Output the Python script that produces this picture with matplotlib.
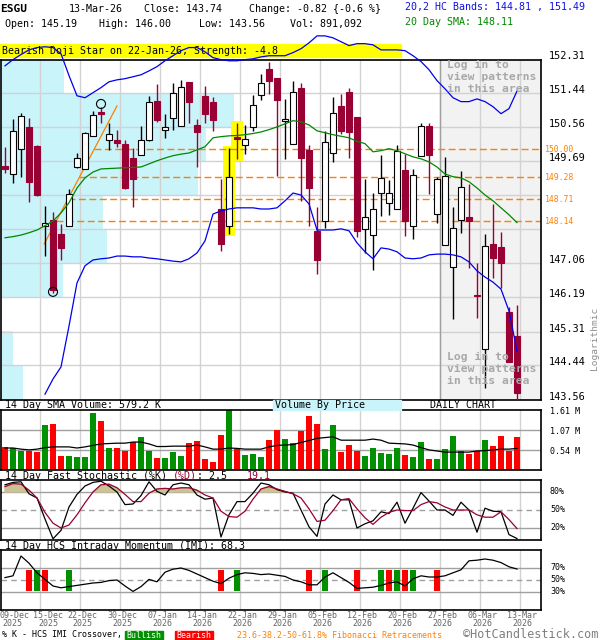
import numpy as np
import matplotlib
matplotlib.use("Agg")
import matplotlib.pyplot as plt
from matplotlib.patches import Rectangle
from matplotlib.transforms import blended_transform_factory, offset_copy

# ---- data (daily, 09-Dec-2025 .. 13-Mar-2026) ----
dates = ["2025-12-09", "2025-12-10", "2025-12-11", "2025-12-12", "2025-12-15", "2025-12-16",
         "2025-12-17", "2025-12-18", "2025-12-19", "2025-12-22", "2025-12-23", "2025-12-24",
         "2025-12-26", "2025-12-29", "2025-12-30", "2025-12-31", "2026-01-02", "2026-01-05",
         "2026-01-06", "2026-01-07", "2026-01-08", "2026-01-09", "2026-01-12", "2026-01-13",
         "2026-01-14", "2026-01-15", "2026-01-16", "2026-01-20", "2026-01-21", "2026-01-22",
         "2026-01-23", "2026-01-26", "2026-01-27", "2026-01-28", "2026-01-29", "2026-01-30",
         "2026-02-02", "2026-02-03", "2026-02-04", "2026-02-05", "2026-02-06", "2026-02-09",
         "2026-02-10", "2026-02-11", "2026-02-12", "2026-02-13", "2026-02-17", "2026-02-18",
         "2026-02-19", "2026-02-20", "2026-02-23", "2026-02-24", "2026-02-25", "2026-02-26",
         "2026-02-27", "2026-03-02", "2026-03-03", "2026-03-04", "2026-03-05", "2026-03-06",
         "2026-03-09", "2026-03-10", "2026-03-11", "2026-03-12", "2026-03-13"]

opens = [149.57, 149.36, 150.00, 150.57, 150.08, 148.03, 148.18, 147.83, 148.03, 149.54,
         149.48, 150.34, 150.96, 150.23, 150.24, 150.13, 149.77, 149.84, 150.23, 151.24,
         150.49, 150.81, 150.60, 151.73, 150.62, 151.37, 151.22, 148.45, 148.01, 150.32,
         150.10, 150.58, 151.39, 152.06, 151.82, 150.71, 150.14, 151.58, 149.98, 147.90,
         148.15, 149.90, 151.11, 151.47, 150.83, 147.94, 147.79, 148.87, 148.62, 148.45,
         149.46, 148.02, 149.81, 150.60, 148.33, 147.53, 146.98, 148.17, 148.26, 146.25,
         144.85, 147.57, 147.48, 145.81, 145.19]
highs = [150.06, 150.77, 150.92, 150.80, 150.10, 148.54, 148.37, 148.07, 148.97, 149.91,
         150.45, 150.98, 151.07, 150.68, 150.49, 150.23, 150.04, 150.60, 151.37, 151.67,
         150.90, 151.69, 151.77, 151.73, 150.77, 151.63, 151.33, 149.23, 150.04, 150.66,
         150.62, 151.39, 151.94, 152.25, 151.82, 151.29, 151.74, 151.69, 150.10, 148.50,
         150.47, 151.34, 151.41, 151.58, 150.83, 149.23, 148.88, 149.85, 149.20, 150.10,
         149.87, 149.50, 150.68, 150.66, 149.29, 149.80, 148.51, 149.44, 149.11, 147.08,
         147.83, 148.60, 147.88, 145.94, 146.00]
lows = [149.39, 149.14, 149.27, 148.64, 148.80, 147.25, 146.31, 147.15, 148.03, 149.52,
        149.48, 150.34, 150.68, 149.97, 150.06, 148.97, 148.52, 149.84, 150.21, 150.70,
        150.28, 150.49, 150.60, 150.68, 149.54, 150.68, 150.47, 147.38, 147.81, 149.74,
        149.87, 150.47, 151.27, 151.41, 149.31, 149.74, 150.14, 148.67, 148.01, 146.80,
        147.96, 149.68, 150.39, 149.78, 147.74, 147.32, 146.89, 148.28, 148.30, 148.45,
        147.77, 147.70, 149.81, 148.84, 148.11, 147.53, 145.64, 147.85, 146.95, 145.67,
        143.86, 146.69, 146.44, 144.53, 143.56]
closes = [149.49, 150.47, 150.86, 149.16, 148.82, 148.10, 146.37, 147.45, 148.84, 149.78,
          150.41, 150.88, 150.91, 150.39, 150.15, 148.99, 149.23, 150.23, 151.22, 150.75,
          150.57, 151.44, 151.60, 151.22, 150.45, 150.90, 150.75, 147.57, 149.27, 150.27,
          150.26, 151.13, 151.70, 151.76, 151.27, 150.77, 151.47, 149.78, 148.99, 147.15,
          150.19, 150.93, 150.47, 150.43, 147.90, 148.26, 148.45, 149.25, 148.88, 149.96,
          148.14, 149.33, 150.59, 149.86, 149.24, 149.31, 147.97, 149.03, 148.14, 146.22,
          147.51, 147.21, 147.08, 144.53, 143.74]

sma20 = [147.72, 147.75, 147.79, 147.85, 147.92, 148.03, 148.15, 148.36, 148.62, 149.00,
         149.26, 149.41, 149.49, 149.50, 149.51, 149.52, 149.53, 149.54, 149.62, 149.70,
         149.77, 149.83, 149.87, 149.90, 149.98, 150.06, 150.29, 150.32, 150.34, 150.35,
         150.37, 150.40, 150.44, 150.50, 150.57, 150.65, 150.73, 150.70, 150.62, 150.47,
         150.42, 150.37, 150.33, 150.29, 150.20, 150.14, 149.93, 149.96, 150.01, 149.96,
         149.88, 149.80, 149.75, 149.67, 149.54, 149.36, 149.29, 149.26, 149.16, 149.00,
         148.82, 148.67, 148.49, 148.31, 148.11]
band_upper = [152.14, 152.30, 152.43, 152.55, 152.61, 152.63, 152.61, 152.45, 151.89, 151.37,
              151.32, 151.45, 151.58, 151.73, 151.78, 151.81, 151.86, 151.91, 152.01, 152.12,
              152.27, 152.40, 152.53, 152.61, 152.61, 152.50, 152.35, 152.30, 152.27, 152.27,
              152.30, 152.32, 152.37, 152.40, 152.40, 152.40, 152.48, 152.58, 152.73, 152.91,
              152.91, 152.86, 152.76, 152.66, 152.71, 152.71, 152.68, 152.55, 152.55, 152.55,
              152.53, 152.40, 152.25, 152.04, 151.76, 151.55, 151.32, 151.22, 151.22, 151.29,
              151.22, 151.09, 150.91, 151.04, 151.49]
band_lower = [np.nan, np.nan, np.nan, np.nan, np.nan, 143.70, 144.09, 144.40, 145.45, 146.56,
              147.00, 147.15, 147.18, 147.20, 147.25, 147.25, 147.23, 147.23, 147.20, 147.18,
              147.15, 147.12, 147.10, 147.18, 147.33, 147.64, 148.33, 148.41, 148.46, 148.49,
              148.49, 148.49, 148.46, 148.46, 148.49, 148.67, 148.87, 148.82, 148.59, 147.92,
              147.92, 147.92, 147.95, 147.90, 147.59, 147.36, 147.18, 147.46, 147.43, 147.36,
              147.20, 147.18, 147.20, 147.28, 147.30, 147.30, 147.28, 147.23, 147.10, 146.87,
              146.71, 146.58, 146.40, 145.84, 144.81]

volume_m = [0.625, 0.58, 0.52, 0.52, 0.49, 1.21, 1.23, 0.376, 0.376, 0.357,
            0.357, 1.54, 1.32, 0.60, 0.60, 0.52, 0.74, 0.885, 0.52, 0.33,
            0.33, 0.49, 0.38, 0.73, 0.79, 0.295, 0.22, 0.94, 1.61, 0.56,
            0.40, 0.43, 0.357, 0.805, 1.07, 0.83, 0.72, 1.05, 1.45, 1.23,
            0.56, 1.21, 0.48, 0.67, 0.52, 0.376, 0.59, 0.456, 0.43, 0.59,
            0.40, 0.35, 0.75, 0.295, 0.295, 0.56, 0.91, 0.51, 0.43, 0.51,
            0.805, 0.64, 0.91, 0.52, 0.891]
volume_sma_m = [0.59, 0.59, 0.56, 0.54, 0.56, 0.60, 0.62, 0.62, 0.62, 0.59,
                0.62, 0.66, 0.70, 0.71, 0.72, 0.72, 0.75, 0.75, 0.70, 0.63,
                0.63, 0.64, 0.64, 0.64, 0.67, 0.62, 0.56, 0.56, 0.59, 0.58,
                0.56, 0.56, 0.56, 0.62, 0.66, 0.67, 0.68, 0.74, 0.79, 0.85,
                0.87, 0.89, 0.80, 0.80, 0.80, 0.80, 0.83, 0.80, 0.72, 0.71,
                0.70, 0.67, 0.60, 0.54, 0.51, 0.48, 0.48, 0.48, 0.48, 0.51,
                0.52, 0.54, 0.56, 0.56, 0.579]

stoch_k = [92, 96, 97, 77, 70, 35, 2, 16, 55, 76, 90, 96, 98, 90, 80, 59, 60, 74, 97, 81,
           75, 92, 95, 92, 75, 68, 70, 5, 42, 64, 64, 78, 95, 92, 84, 80, 78, 50, 22, 6,
           60, 75, 67, 67, 20, 27, 32, 47, 44, 63, 28, 53, 79, 65, 50, 50, 41, 63, 50, 13,
           53, 48, 47, 9, 2.5]
stoch_d = [89, 94, 93, 83, 70, 46, 28, 20, 25, 42, 62, 80, 92, 93, 87, 76, 64, 64, 78, 85,
           86, 85, 87, 87, 83, 75, 70, 48, 39, 38, 48, 68, 85, 89, 85, 81, 77, 70, 52, 31,
           33, 49, 67, 69, 52, 37, 26, 38, 46, 50, 49, 49, 59, 64, 62, 55, 50, 50, 50, 42,
           38, 38, 47, 34, 19.1]
imi = [54, 57, 90, 78, 62, 51, 40, 37, 39, 41, 43, 45, 46, 49, 50, 40, 31, 39, 51, 47,
       63, 68, 70, 66, 60, 54, 48, 44, 53, 59, 62, 61, 59, 60, 58, 56, 50, 47, 42, 42,
       55, 62, 54, 46, 36, 37, 38, 41, 45, 47, 40, 52, 57, 55, 55, 57, 62, 67, 82, 83,
       85, 83, 79, 72, 68.3]
cross_idx = [3, 4, 5, 8, 27, 29, 38, 40, 44, 47, 48, 49, 50, 51, 54]
cross_kind = ["bear", "bull", "bear", "bull", "bear", "bull", "bear", "bull", "bear",
              "bull", "bear", "bull", "bear", "bull", "bear"]

price_grid = [143.56, 144.44, 145.31, 146.19, 147.06, 147.94, 148.81, 149.69, 150.56, 151.44, 152.31]
price_labels = [143.56, 144.44, 145.31, 146.19, 147.06, 149.69, 150.56, 151.44, 152.31]
fib_levels = [150.00, 149.28, 148.71, 148.14]
swing_idx = [6, 12]
swing_price = [146.33, 151.16]
trend_idx = [4.9, 14.0]
trend_price = [147.56, 151.11]
pattern_idx = [28, 29]
vbp_volume = [22, 12, 0, 62, 106, 102, 197, 205, 233, 63]   # rows bottom -> top

# ---- style ----
MONO = "DejaVu Sans Mono"
MAROON = "#990033"
ORANGE = "#ff8000"
CYAN = "#c8f4fa"
GRID = "#d2d2d2"
BAND = "#0000ee"
GREEN_VOL = "#009000"

n = len(closes)
x = np.arange(n)
o, h, l, c = map(np.array, (opens, highs, lows, closes))
up = c >= o
label_idx = list(range(4, n, 5))
grid_x = [i + 0.375 for i in label_idx]
XLIM = (-0.5, 67.0)

fig = plt.figure(figsize=(6, 6.4), dpi=100)


def box(top, bottom):
    return [1 / 600, 1 - bottom / 640, 540 / 600, (bottom - top) / 640]


def ftext(px, py, s, **kw):
    kw.setdefault("family", MONO)
    kw.setdefault("fontsize", 7.2)
    kw.setdefault("va", "center")
    return fig.text(px / 600, 1 - py / 640, s, **kw)


ax = fig.add_axes(box(60, 400))
vax = fig.add_axes(box(410, 470))
sax = fig.add_axes(box(480, 540))
iax = fig.add_axes(box(550, 610))

for a in (ax, vax, sax, iax):
    a.set_xlim(*XLIM)
    a.set_xticks([])
    a.set_yticks([])
    for s in a.spines.values():
        s.set_linewidth(1.2)
    for gx in grid_x:
        a.axvline(gx, color=GRID, lw=1, zorder=0.5)

# ---- price panel ----
ax.set_ylim(143.55, 152.29)
ax.axvspan(54.5, XLIM[1], color="#f2f2f2", zorder=0.1)
ax.axvline(grid_x[10], color="#a0a0a0", lw=1, zorder=0.6)
step = price_grid[1] - price_grid[0]
vbp_w = np.array(vbp_volume) / max(vbp_volume) * 29.1
ax.barh(np.array(price_grid[:-1]) + step / 2, vbp_w, height=step, left=XLIM[0],
        color=CYAN, zorder=0.2)
for p in price_grid:
    ax.axhline(p, color=GRID, lw=1, zorder=0.5)

for yy in (60, 352):
    ftext(447, yy, "Log in to\nview patterns\nin this area", color="#a8a8a8", fontsize=8.2,
          fontweight="bold", va="top", linespacing=1.25)

# fibonacci retracements
t0, t1 = trend_idx
p0, p1 = trend_price
for lev in fib_levels:
    xs = t0 + (lev - p0) / (p1 - p0) * (t1 - t0)
    ax.plot([xs, XLIM[1]], [lev, lev], color=ORANGE, lw=1, dashes=(5, 2.5), zorder=2)
ax.plot(trend_idx, trend_price, color=ORANGE, lw=0.9, zorder=2)
ax.scatter(swing_idx, swing_price, s=42, facecolors="none", edgecolors="black", lw=0.8, zorder=6)

# pattern highlight
for i in pattern_idx:
    ax.bar(i, h[i] - l[i] + 0.1, bottom=l[i] - 0.05, width=1.4, color="#ffff00", zorder=1)

# candles
ax.vlines(x, l, h, colors=np.where(up, "black", MAROON), lw=1, zorder=3)
body_h = np.maximum(np.abs(c - o), 0.025)
ax.bar(x, body_h, bottom=np.minimum(o, c), width=0.7,
       color=np.where(up, "white", MAROON), edgecolor=np.where(up, "black", MAROON),
       lw=0.8, zorder=4)

ax.plot(x, sma20, color="#008800", lw=0.9, zorder=5)
ax.plot(x, band_upper, color=BAND, lw=0.9, zorder=5, clip_on=False)
ax.plot(x, band_lower, color=BAND, lw=0.9, zorder=5, clip_on=False)

# banner behind the band line
ax.add_patch(Rectangle((0, 1 - 57 / 640), 401 / 600, 13 / 640, transform=fig.transFigure,
                       color="#ffff00", zorder=1, clip_on=False))
ax.text(2 / 600, 1 - 50.5 / 640, "Bearish Doji Star on 22-Jan-26, Strength: -4.8",
        transform=fig.transFigure, family=MONO, fontsize=7.2, va="center", zorder=1.5,
        clip_on=False)

ytr = blended_transform_factory(ax.transAxes, ax.transData)
for p in price_labels:
    ax.text(1 + 8 / 540, p, f"{p:.2f}", transform=offset_copy(ytr, fig=fig, y=3, units="dots"),
            family=MONO, fontsize=7.4, va="center", clip_on=False)
for lev in fib_levels:
    ax.text(1 + 4 / 540, lev, f"{lev:.2f}", transform=ytr, color=ORANGE,
            family=MONO, fontsize=5.9, va="center", clip_on=False)
ftext(595, 338, "Logarithmic", rotation=90, ha="center", color="#909090", fontsize=6.8)

# ---- volume panel ----
vax.set_ylim(0, 1.61)
for v in (0.54, 1.07):
    vax.axhline(v, color="#a0a0a0", lw=1, zorder=0.5)
vax.bar(x, volume_m, width=0.72, color=np.where(up, GREEN_VOL, "#ff0000"), zorder=2)
vax.plot(x, volume_sma_m, color="black", lw=0.9, zorder=3)
for yy, s in ((411, "1.61 M"), (432, "1.07 M"), (452, "0.54 M")):
    ftext(550, yy, s, fontsize=6)

# ---- stochastic panel ----
sax.set_ylim(0, 100)
for v in (80, 20):
    sax.axhline(v, color="#a0a0a0", lw=1, zorder=0.5)
sax.axhline(50, color="#a0a0a0", lw=1, dashes=(4, 3), zorder=0.5)
kd = np.array(stoch_d, dtype=float)
sax.fill_between(x, 80, kd, where=kd > 80, interpolate=True, color="#cbc295", zorder=1)
sax.plot(x, stoch_k, color="black", lw=0.9, zorder=3)
sax.plot(x, stoch_d, color=MAROON, lw=0.9, zorder=3)
for yy, s in ((492, "80%"), (510, "50%"), (528, "20%")):
    ftext(550, yy, s, fontsize=6)

# ---- IMI panel ----
iax.set_ylim(0, 100)
for v in (70, 30):
    iax.axhline(v, color="#a0a0a0", lw=1, zorder=0.5)
iax.axhline(50, color="#a0a0a0", lw=1, dashes=(4, 3), zorder=0.5)
iax.bar(cross_idx, 35.5, bottom=32, width=0.75,
        color=["#009000" if k == "bull" else "#ff0000" for k in cross_kind], zorder=2)
iax.plot(x, imi, color="black", lw=0.9, zorder=3)
for yy, s in ((568, "70%"), (580, "50%"), (592, "30%")):
    ftext(550, yy, s, fontsize=6)

# date labels (first one pinned to the left edge, second nudged clear of it)
mon = {"01": "Jan", "02": "Feb", "03": "Mar", "12": "Dec"}
for k, i in enumerate([0] + label_idx):
    yyyy, mm, dd = dates[i].split("-")
    if k == 0:
        px, ha = 0, "left"
    else:
        px, ha = 8 + 8 * i + (8 if k == 1 else 2), "center"
    ftext(px, 616, f"{dd}-{mon[mm]}", ha=ha, fontsize=6, color="#666666")
    ftext(px + (2 if k == 0 else 0), 624, yyyy, ha=ha, fontsize=6, color="#666666")

# ---- header / titles ----
ftext(0, 9, "ESGU", fontweight="bold", fontsize=8)
ftext(69, 9, "13-Mar-26")
ftext(144, 9, "Close: 143.74")
ftext(249, 9, "Change: -0.82 {-0.6 %}")
ftext(5, 24, "Open: 145.19")
ftext(99, 24, "High: 146.00")
ftext(199, 24, "Low: 143.56")
ftext(290, 24, "Vol: 891,092")
ftext(405, 7, "20,2 HC Bands: 144.81 , 151.49", color="#1010e0")
ftext(405, 22, "20 Day SMA: 148.11", color="#008800")

ftext(5, 405.5, "14 Day SMA Volume: 579.2 K")
fig.patches.append(Rectangle((273 / 600, 1 - 410 / 640), 128 / 600, 10 / 640,
                             transform=fig.transFigure, color=CYAN, zorder=0))
ftext(275, 405.5, "Volume By Price")
ftext(430, 405.5, "DAILY CHART")

ftext(5, 476, "14 Day Fast Stochastic (%K) ")
ftext(173, 476, "(%D)", color=MAROON)
ftext(197, 476, ": 2.5")
ftext(247, 476, "19.1", color=MAROON)
ftext(5, 546, "14 Day HCS Intraday Momentum (IMI): 68.3")

# ---- footer legend ----
ftext(2, 635, "% K - HCS IMI Crossover,", fontsize=6)
fig.patches.append(Rectangle((125 / 600, 1 - 640 / 640), 38 / 600, 9 / 640,
                             transform=fig.transFigure, color="#009000"))
ftext(144, 635, "Bullish", color="white", ha="center", fontsize=6)
fig.patches.append(Rectangle((175 / 600, 1 - 640 / 640), 38 / 600, 9 / 640,
                             transform=fig.transFigure, color="#ff0000"))
ftext(194, 635, "Bearish", color="white", ha="center", fontsize=6)
ftext(237, 635, "23.6-38.2-50-61.8% Fibonacci Retracements", color=ORANGE, fontsize=6)
ftext(463, 634, "\u00a9HotCandlestick.com", color="#808080", fontsize=8.6)

fig.savefig("out.png", dpi=100)
